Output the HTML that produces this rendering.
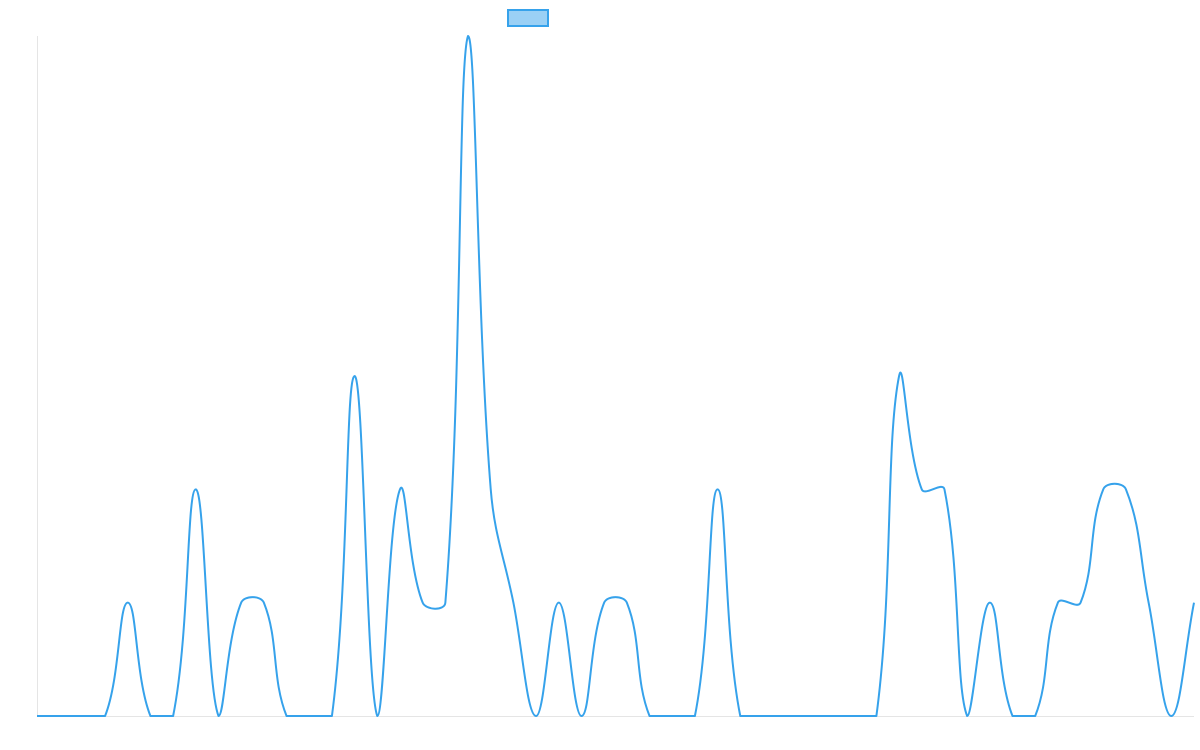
<!DOCTYPE html>
<html>
<head>
<meta charset="utf-8">
<style>
  html, body { margin: 0; padding: 0; background: #ffffff; }
  body { width: 1200px; height: 750px; overflow: hidden; font-family: "Liberation Sans", sans-serif; }
  svg { display: block; }
</style>
</head>
<body>
<svg id="chart" width="1200" height="750" viewBox="0 0 1200 750" xmlns="http://www.w3.org/2000/svg">
  <rect x="0" y="0" width="1200" height="750" fill="#ffffff"/>
  <!-- legend box -->
  <rect x="508" y="10" width="40" height="16" fill="rgba(54,162,235,0.5)" stroke="#36a2eb" stroke-width="2"/>
  <!-- axes -->
  <line x1="37.5" y1="36" x2="37.5" y2="716" stroke="rgba(0,0,0,0.1)" stroke-width="1"/>
  <line x1="37" y1="716.5" x2="1194" y2="716.5" stroke="rgba(0,0,0,0.1)" stroke-width="1"/>
  <path id="series" d="" fill="none" stroke="#36a2eb" stroke-width="2" stroke-linejoin="round" stroke-linecap="butt"/>
</svg>
<script>
(function(){
  var vals = [0,0,0,0,1,0,0,2,0,1,1,0,0,0,3,0,2,1,1,6,2,1,0,1,0,1,1,0,0,0,2,0,0,0,0,0,0,0,3,2,2,0,1,0,0,1,1,2,2,1,0,1];
  var left = 37, right = 1194, top = 36, bottom = 716;
  var n = vals.length;
  var step = (right - left) / (n - 1);
  var pts = vals.map(function(v, i){ return {x: left + i*step, y: bottom - v*(bottom-top)/6}; });
  var t = 0.4;
  function clamp(v, a, b){ return Math.max(a, Math.min(b, v)); }
  for (var i = 0; i < n; i++) {
    var prev = pts[i-1] || pts[i], cur = pts[i], next = pts[i+1] || pts[i];
    var d01 = Math.hypot(cur.x-prev.x, cur.y-prev.y);
    var d12 = Math.hypot(next.x-cur.x, next.y-cur.y);
    var s01 = d01/(d01+d12), s12 = d12/(d01+d12);
    if (isNaN(s01)) s01 = 0; if (isNaN(s12)) s12 = 0;
    var fa = t*s01, fb = t*s12;
    cur.cpx = clamp(cur.x - fa*(next.x-prev.x), left, right);
    cur.cpy = clamp(cur.y - fa*(next.y-prev.y), top, bottom);
    cur.cnx = clamp(cur.x + fb*(next.x-prev.x), left, right);
    cur.cny = clamp(cur.y + fb*(next.y-prev.y), top, bottom);
  }
  var d = "M" + pts[0].x.toFixed(2) + " " + pts[0].y.toFixed(2);
  for (var j = 1; j < n; j++) {
    var p = pts[j-1], c = pts[j];
    d += " C" + p.cnx.toFixed(2) + " " + p.cny.toFixed(2) + " " + c.cpx.toFixed(2) + " " + c.cpy.toFixed(2) + " " + c.x.toFixed(2) + " " + c.y.toFixed(2);
  }
  document.getElementById("series").setAttribute("d", d);
})();
</script>
</body>
</html>
